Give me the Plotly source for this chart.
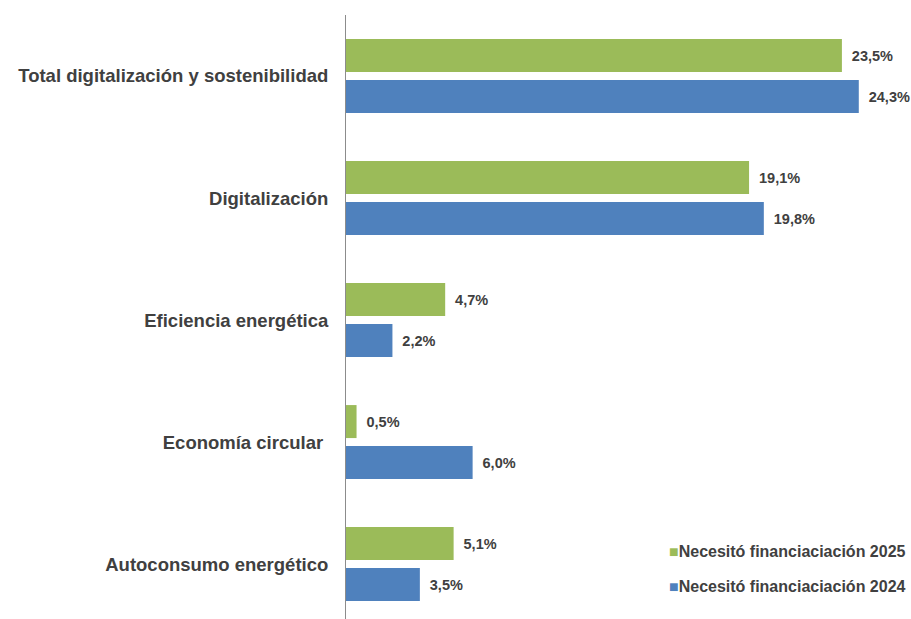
import plotly.graph_objects as go

categories = ["Total digitalización y sostenibilidad", "Digitalización", "Eficiencia energética",
              "Economía circular ", "Autoconsumo energético"]
values_2025 = [23.5, 19.1, 4.7, 0.5, 5.1]
values_2024 = [24.3, 19.8, 2.2, 6.0, 3.5]
series_names = ["Necesitó financiaciación 2025", "Necesitó financiaciación 2024"]

GREEN = "#9BBB59"
BLUE = "#4F81BD"
TXT = "#404040"
FONT = "Liberation Sans, Arial, sans-serif"

def fmt(v):
    return "\u2009 " + f"{v:.1f}".replace(".", ",") + "%"

fig = go.Figure()
series = [(series_names[0], values_2025, GREEN), (series_names[1], values_2024, BLUE)]
for name, vals, col in series:
    fig.add_trace(go.Bar(
        y=categories, x=vals, orientation="h", name=name,
        marker=dict(color=col, line=dict(width=0)),
        text=[fmt(v) for v in vals], textposition="outside",
        textfont=dict(family=FONT, size=14.5, color=TXT, weight="bold"),
        cliponaxis=False, hoverinfo="skip",
    ))

# legend drawn as text rows (bottom right)
legend_y = [0.111, 0.053]
for (name, vals, col), ly in zip(series, legend_y):
    fig.add_annotation(
        xref="paper", yref="paper", x=1.0126, y=ly, xanchor="right", yanchor="middle",
        showarrow=False,
        text=f"<span style='color:{col}'>■</span>{name}",
        font=dict(family=FONT, size=16, color=TXT, weight="bold"),
    )

fig.update_layout(
    width=911, height=619,
    margin=dict(l=346, r=10, t=15, b=0),
    paper_bgcolor="white", plot_bgcolor="white",
    barmode="group", bargap=0.328, bargroupgap=0.195,
    font=dict(family=FONT, color=TXT),
    showlegend=False,
)
fig.update_xaxes(range=[0, 26.3], showgrid=False, zeroline=False, showline=False,
                 showticklabels=False, ticks="")
fig.update_yaxes(range=[4.45, -0.5], showgrid=False, zeroline=False, showline=True,
                 linecolor="#8c8c8c", linewidth=1, ticks="", ticklabelstandoff=13,
                 automargin=False,
                 tickfont=dict(family=FONT, size=18.5, color=TXT, weight="bold"))

fig.write_html("out.html", config={"displayModeBar": False},
               post_script="document.body.style.margin='0px';")
